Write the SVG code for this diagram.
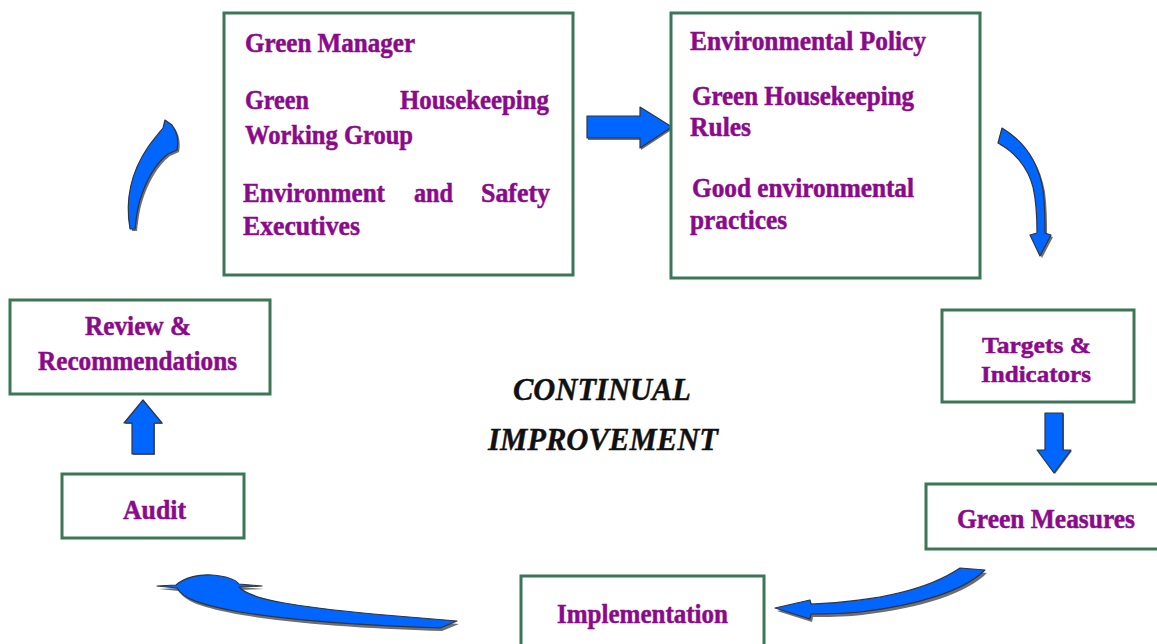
<svg xmlns="http://www.w3.org/2000/svg" xmlns:xlink="http://www.w3.org/1999/xlink" width="1157" height="644" viewBox="0 0 1157 644">
  <style>
    .box { fill: #ffffff; stroke: #3b7657; stroke-width: 3; }
    .lbl { font-family: "Liberation Serif", "Times New Roman", serif; font-weight: bold; font-size: 27px; fill: #8b0a8b; stroke: #8b0a8b; stroke-width: 0.5; }
    .tight { font-size: 24px; }
    .big { font-family: "Liberation Serif", "Times New Roman", serif; font-weight: bold; font-style: italic; font-size: 32px; fill: #111111; stroke: #111111; stroke-width: 0.4; }
    .arrow { fill: #0066ff; stroke: #2f3440; stroke-width: 1.2; stroke-linejoin: round; }
    .shadow { fill: #6e6e6e; }
  </style>
  <defs>
    <!-- block arrow outlines, drawn once as a grey drop shadow and once in blue -->
    <path id="a-up-curve" d="M 130 229 C 125 200, 131 172, 148 147 C 154 139, 159 133, 163 128 L 165 120 L 172 125 C 177 132, 179 141, 177 150 L 168 154 C 155 164, 146 181, 140 200 C 137 210, 136 220, 135 229 Z"/>
    <path id="a-right" d="M 587 116 L 640 116 L 640 107 L 672 127 L 640 148 L 640 138 L 587 138 Z"/>
    <path id="a-down-curve" d="M 998 143 L 1002 128 C 1022 140, 1038 160, 1043 190 C 1045 205, 1045 220, 1045 233 L 1051 235 L 1040 256 L 1030 235 L 1037 233 C 1037 215, 1036 200, 1033 187 C 1028 168, 1015 152, 998 143 Z"/>
    <path id="a-down" d="M 1045 413 L 1063 413 L 1063 450 L 1071 450 L 1054 473 L 1037 450 L 1045 450 Z"/>
    <path id="a-left-curve" d="M 775 608 L 810 600 L 811 604 C 860 602, 920 595, 960 568 L 985 570 C 965 590, 920 605, 860 612 C 840 614, 825 614, 811 614 L 810 619 Z"/>
    <path id="a-left-sweep" d="M 157 586 L 176 585 C 185 577, 200 574, 212 575 C 225 576, 235 579, 239 584 L 262 586 L 239 587 C 250 600, 300 607, 373 614 L 457 621 L 440 628 C 380 626, 300 622, 240 612 C 200 605, 182 598, 177 588 Z"/>
    <path id="a-up" d="M 132 454 L 154 454 L 154 423 L 162 423 L 143 400 L 124 423 L 132 423 Z"/>
  </defs>

  <rect width="1157" height="644" fill="#ffffff"/>

  <g id="connectors">
    <g id="measures-to-implementation">
      <use xlink:href="#a-left-curve" class="shadow" transform="translate(2,3)"/>
      <use xlink:href="#a-left-curve" class="arrow"/>
    </g>
    <g id="implementation-to-audit">
      <use xlink:href="#a-left-sweep" class="shadow" transform="translate(2,3)"/>
      <use xlink:href="#a-left-sweep" class="arrow"/>
    </g>
    <g id="audit-to-review">
      <use xlink:href="#a-up" class="shadow" transform="translate(1,1)"/>
      <use xlink:href="#a-up" class="arrow"/>
    </g>
    <g id="review-to-manager">
      <use xlink:href="#a-up-curve" class="shadow" transform="translate(2,2)"/>
      <use xlink:href="#a-up-curve" class="arrow"/>
    </g>
    <g id="manager-to-policy">
      <use xlink:href="#a-right" class="shadow" transform="translate(1,2)"/>
      <use xlink:href="#a-right" class="arrow"/>
    </g>
    <g id="policy-to-targets">
      <use xlink:href="#a-down-curve" class="shadow" transform="translate(2,2)"/>
      <use xlink:href="#a-down-curve" class="arrow"/>
    </g>
    <g id="targets-to-measures">
      <use xlink:href="#a-down" class="shadow" transform="translate(1,1)"/>
      <use xlink:href="#a-down" class="arrow"/>
    </g>
  </g>

  <g id="node-organisation">
    <rect class="box" x="224" y="13" width="349" height="262"/>
    <text class="lbl" x="245" y="52" textLength="170" lengthAdjust="spacingAndGlyphs">Green Manager</text>
    <text class="lbl" y="109"><tspan x="245" textLength="64" lengthAdjust="spacingAndGlyphs">Green</tspan><tspan x="400" textLength="149" lengthAdjust="spacingAndGlyphs">Housekeeping</tspan></text>
    <text class="lbl" x="245" y="144" textLength="168" lengthAdjust="spacingAndGlyphs">Working Group</text>
    <text class="lbl" y="202"><tspan x="243" textLength="142" lengthAdjust="spacingAndGlyphs">Environment</tspan><tspan x="414" textLength="39" lengthAdjust="spacingAndGlyphs">and</tspan><tspan x="481" textLength="69" lengthAdjust="spacingAndGlyphs">Safety</tspan></text>
    <text class="lbl" x="243" y="235" textLength="117" lengthAdjust="spacingAndGlyphs">Executives</text>
  </g>

  <g id="node-policy">
    <rect class="box" x="671" y="13" width="309" height="265"/>
    <text class="lbl" x="690" y="50" textLength="236" lengthAdjust="spacingAndGlyphs">Environmental Policy</text>
    <text class="lbl" x="692" y="105" textLength="222" lengthAdjust="spacingAndGlyphs">Green Housekeeping</text>
    <text class="lbl" x="690" y="136" textLength="61" lengthAdjust="spacingAndGlyphs">Rules</text>
    <text class="lbl" x="692" y="197" textLength="222" lengthAdjust="spacingAndGlyphs">Good environmental</text>
    <text class="lbl" x="690" y="229" textLength="97" lengthAdjust="spacingAndGlyphs">practices</text>
  </g>

  <g id="node-targets">
    <rect class="box" x="942" y="310" width="192" height="92"/>
    <text class="lbl tight" x="982" y="353" textLength="109" lengthAdjust="spacingAndGlyphs">Targets &amp;</text>
    <text class="lbl tight" x="981" y="382" textLength="110" lengthAdjust="spacingAndGlyphs">Indicators</text>
  </g>

  <g id="node-measures">
    <rect class="box" x="926" y="484" width="240" height="65"/>
    <text class="lbl" x="957" y="528" textLength="178" lengthAdjust="spacingAndGlyphs">Green Measures</text>
  </g>

  <g id="node-implementation">
    <rect class="box" x="521" y="576" width="243" height="80"/>
    <text class="lbl" x="557" y="623" textLength="171" lengthAdjust="spacingAndGlyphs">Implementation</text>
  </g>

  <g id="node-audit">
    <rect class="box" x="62" y="474" width="182" height="64"/>
    <text class="lbl" x="123" y="519" textLength="63" lengthAdjust="spacingAndGlyphs">Audit</text>
  </g>

  <g id="node-review">
    <rect class="box" x="10" y="300" width="260" height="94"/>
    <text class="lbl" x="85" y="335" textLength="106" lengthAdjust="spacingAndGlyphs">Review &amp;</text>
    <text class="lbl" x="38" y="370" textLength="199" lengthAdjust="spacingAndGlyphs">Recommendations</text>
  </g>

  <g id="title">
    <text class="big" x="513" y="400" textLength="178" lengthAdjust="spacingAndGlyphs">CONTINUAL</text>
    <text class="big" x="488" y="450" textLength="230" lengthAdjust="spacingAndGlyphs">IMPROVEMENT</text>
  </g>
</svg>
